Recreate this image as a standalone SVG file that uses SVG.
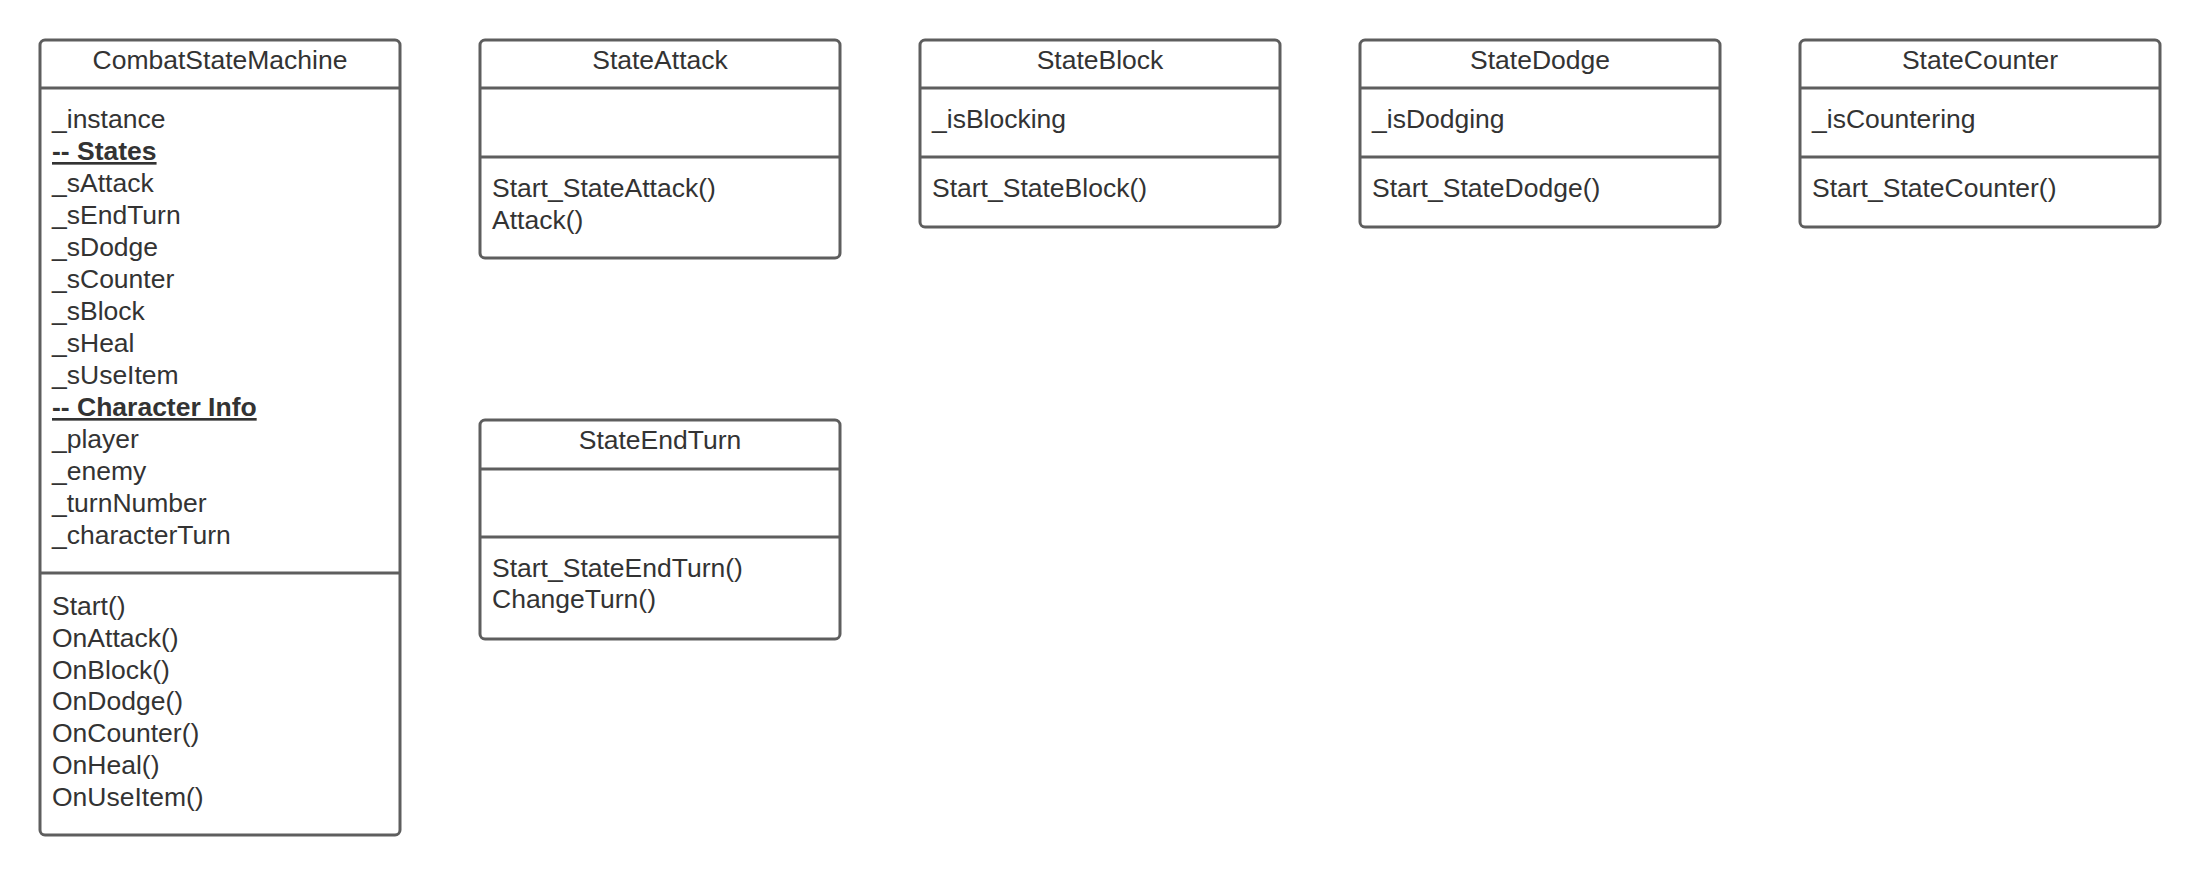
<svg xmlns="http://www.w3.org/2000/svg" width="2200" height="875" viewBox="0 0 2200 875">
<style>
.box{fill:#ffffff;stroke:#5e5e5e;stroke-width:3}
.div{stroke:#5e5e5e;stroke-width:3;fill:none}
text{font-family:"Liberation Sans",Arial,sans-serif;font-size:26.5px;fill:#333333}
.t{text-anchor:middle}
.b{font-weight:bold;text-decoration:underline}
</style>
<rect width="2200" height="875" fill="#ffffff"/>
<g id="CombatStateMachine">
<rect class="box" x="40" y="40" width="360" height="795" rx="5"/>
<line class="div" x1="40" y1="88" x2="400" y2="88"/>
<line class="div" x1="40" y1="573" x2="400" y2="573"/>
<text class="t" x="220" y="69">CombatStateMachine</text>
<text x="52" y="128">_instance</text>
<text x="52" y="160" class="b">-- States</text>
<text x="52" y="192">_sAttack</text>
<text x="52" y="224">_sEndTurn</text>
<text x="52" y="256">_sDodge</text>
<text x="52" y="288">_sCounter</text>
<text x="52" y="320">_sBlock</text>
<text x="52" y="352">_sHeal</text>
<text x="52" y="384">_sUseItem</text>
<text x="52" y="416" class="b">-- Character Info</text>
<text x="52" y="448">_player</text>
<text x="52" y="480">_enemy</text>
<text x="52" y="512">_turnNumber</text>
<text x="52" y="544">_characterTurn</text>
<text x="52" y="615">Start()</text>
<text x="52" y="647">OnAttack()</text>
<text x="52" y="679">OnBlock()</text>
<text x="52" y="710">OnDodge()</text>
<text x="52" y="742">OnCounter()</text>
<text x="52" y="774">OnHeal()</text>
<text x="52" y="806">OnUseItem()</text>
</g>
<g id="StateAttack">
<rect class="box" x="480" y="40" width="360" height="218" rx="5"/>
<line class="div" x1="480" y1="88" x2="840" y2="88"/>
<line class="div" x1="480" y1="157" x2="840" y2="157"/>
<text class="t" x="660" y="69">StateAttack</text>
<text x="492" y="197">Start_StateAttack()</text>
<text x="492" y="229">Attack()</text>
</g>
<g id="StateBlock">
<rect class="box" x="920" y="40" width="360" height="187" rx="5"/>
<line class="div" x1="920" y1="88" x2="1280" y2="88"/>
<line class="div" x1="920" y1="157" x2="1280" y2="157"/>
<text class="t" x="1100" y="69">StateBlock</text>
<text x="932" y="128">_isBlocking</text>
<text x="932" y="197">Start_StateBlock()</text>
</g>
<g id="StateDodge">
<rect class="box" x="1360" y="40" width="360" height="187" rx="5"/>
<line class="div" x1="1360" y1="88" x2="1720" y2="88"/>
<line class="div" x1="1360" y1="157" x2="1720" y2="157"/>
<text class="t" x="1540" y="69">StateDodge</text>
<text x="1372" y="128">_isDodging</text>
<text x="1372" y="197">Start_StateDodge()</text>
</g>
<g id="StateCounter">
<rect class="box" x="1800" y="40" width="360" height="187" rx="5"/>
<line class="div" x1="1800" y1="88" x2="2160" y2="88"/>
<line class="div" x1="1800" y1="157" x2="2160" y2="157"/>
<text class="t" x="1980" y="69">StateCounter</text>
<text x="1812" y="128">_isCountering</text>
<text x="1812" y="197">Start_StateCounter()</text>
</g>
<g id="StateEndTurn">
<rect class="box" x="480" y="420" width="360" height="219" rx="5"/>
<line class="div" x1="480" y1="469" x2="840" y2="469"/>
<line class="div" x1="480" y1="537" x2="840" y2="537"/>
<text class="t" x="660" y="449">StateEndTurn</text>
<text x="492" y="577">Start_StateEndTurn()</text>
<text x="492" y="608">ChangeTurn()</text>
</g>
<g id="connectors"></g>
</svg>
